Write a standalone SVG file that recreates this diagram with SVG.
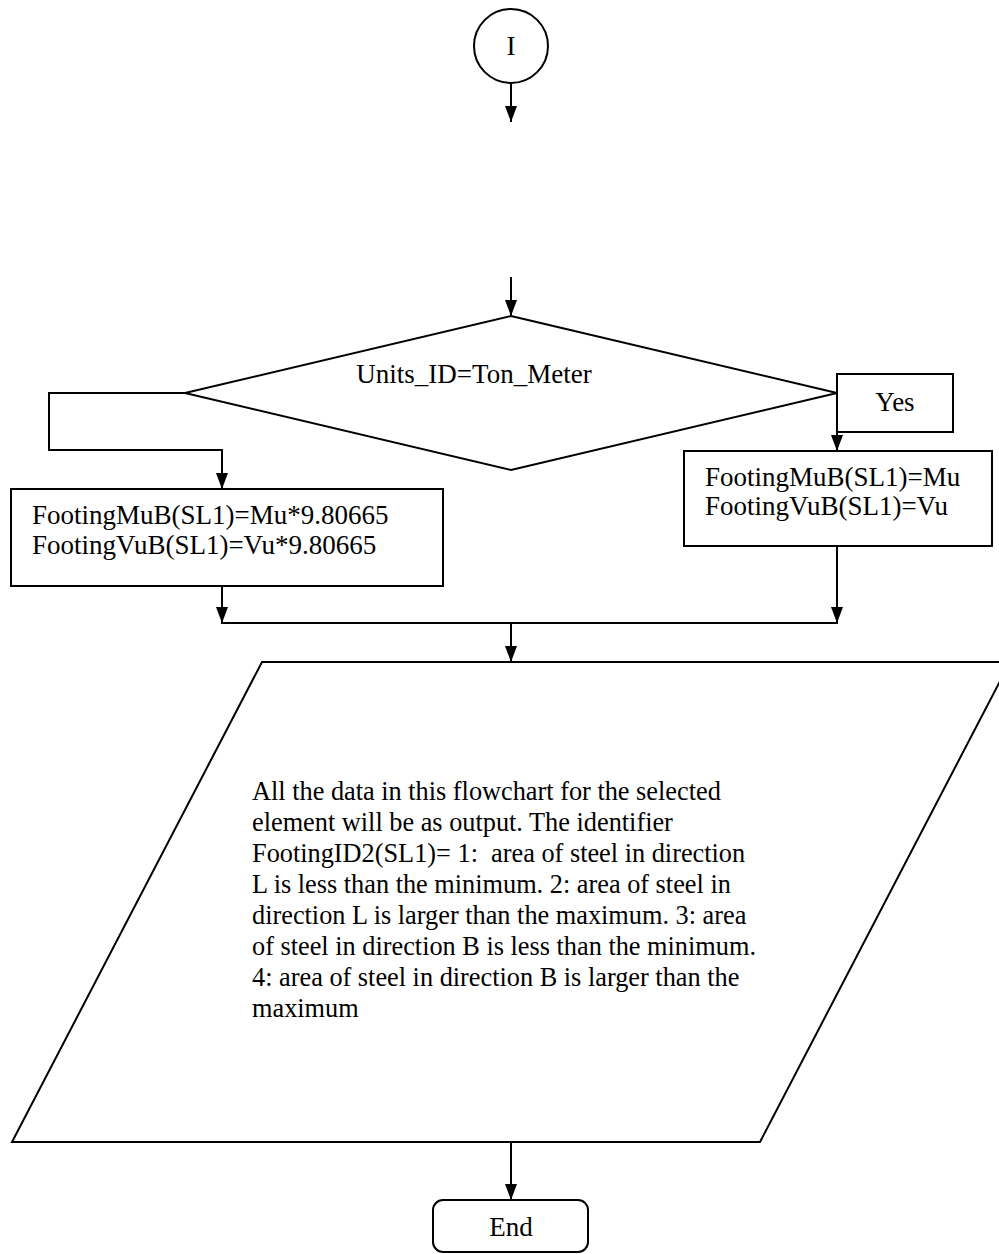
<svg xmlns="http://www.w3.org/2000/svg" width="999" height="1254" viewBox="0 0 999 1254">
<style>
.s{fill:#fff;stroke:#000;stroke-width:2}
.c{fill:none;stroke:#000;stroke-width:2}
.t{font-family:"Liberation Serif","Times New Roman",serif;font-size:27px;fill:#000}
.p{font-family:"Liberation Serif","Times New Roman",serif;font-size:26.3px;fill:#000;white-space:pre}
</style>
<defs>
<marker id="a" viewBox="0 0 16 12" refX="16" refY="6" markerWidth="16" markerHeight="12" markerUnits="userSpaceOnUse" orient="auto">
<path d="M0,0 L16,6 L0,12 Z" fill="#000"/>
</marker>
</defs>
<rect width="999" height="1254" fill="#fff"/>
<g id="connectors">
<line class="c" x1="511" y1="84" x2="511" y2="122" marker-end="url(#a)"/>
<line class="c" x1="511" y1="277" x2="511" y2="316" marker-end="url(#a)"/>
<polyline class="c" points="185,393 49,393 49,450 222,450 222,489" marker-end="url(#a)"/>
<line class="c" x1="837" y1="432" x2="837" y2="451" marker-end="url(#a)"/>
<line class="c" x1="222" y1="586" x2="222" y2="623" marker-end="url(#a)"/>
<line class="c" x1="837" y1="546" x2="837" y2="623" marker-end="url(#a)"/>
<line class="c" x1="221" y1="623" x2="838" y2="623"/>
<line class="c" x1="511" y1="623" x2="511" y2="662" marker-end="url(#a)"/>
<line class="c" x1="511" y1="1142" x2="511" y2="1200" marker-end="url(#a)"/>
</g>
<g id="start">
<circle class="s" cx="511" cy="46" r="37"/>
<text class="t" x="511" y="55" text-anchor="middle">I</text>
</g>
<g id="decision">
<polygon class="s" points="511,316 837,393 511,470 185,393"/>
<text class="t" x="474" y="383" text-anchor="middle">Units_ID=Ton_Meter</text>
</g>
<g id="yes-label">
<rect class="s" x="837" y="374" width="116" height="58"/>
<text class="t" x="895" y="411" text-anchor="middle">Yes</text>
</g>
<g id="convert">
<rect class="s" x="11" y="489" width="432" height="97"/>
<text class="t" x="32" y="524">FootingMuB(SL1)=Mu*9.80665</text>
<text class="t" x="32" y="554">FootingVuB(SL1)=Vu*9.80665</text>
</g>
<g id="assign">
<rect class="s" x="684" y="451" width="308" height="95"/>
<text class="t" x="705" y="486">FootingMuB(SL1)=Mu</text>
<text class="t" x="705" y="515">FootingVuB(SL1)=Vu</text>
</g>
<g id="output">
<polygon class="s" points="262,662 1010,662 760,1142 12,1142"/>
<text class="p" x="252" y="800">All the data in this flowchart for the selected</text>
<text class="p" x="252" y="831">element will be as output. The identifier</text>
<text class="p" x="252" y="862">FootingID2(SL1)= 1:  area of steel in direction</text>
<text class="p" x="252" y="893">L is less than the minimum. 2: area of steel in</text>
<text class="p" x="252" y="924">direction L is larger than the maximum. 3: area</text>
<text class="p" x="252" y="955">of steel in direction B is less than the minimum.</text>
<text class="p" x="252" y="986">4: area of steel in direction B is larger than the</text>
<text class="p" x="252" y="1017">maximum</text>
</g>
<g id="end">
<rect class="s" x="433" y="1200" width="155" height="52" rx="10" ry="10"/>
<text class="t" x="511" y="1236" text-anchor="middle">End</text>
</g>
</svg>
